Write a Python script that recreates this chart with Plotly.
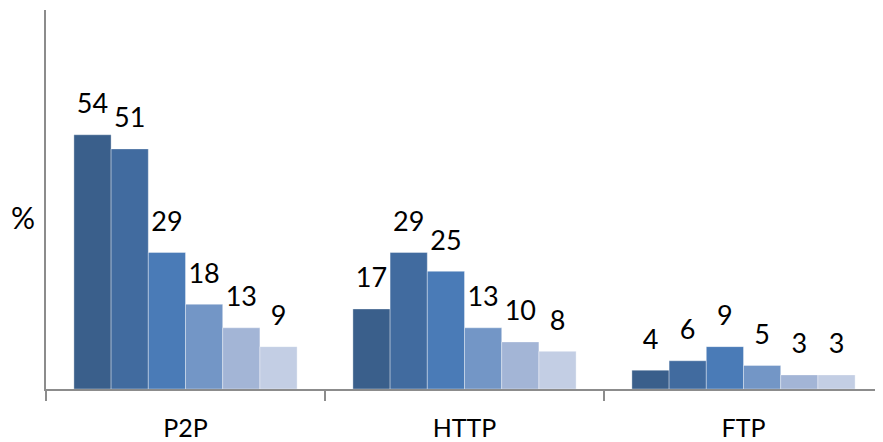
import plotly.graph_objects as go

categories = ["P2P", "HTTP", "FTP"]
series_names = ["S1", "S2", "S3", "S4", "S5", "S6"]
s1 = [54, 17, 4]
s2 = [51, 29, 6]
s3 = [29, 25, 9]
s4 = [18, 13, 5]
s5 = [13, 10, 3]
s6 = [9, 8, 3]
series_values = [s1, s2, s3, s4, s5, s6]
colors = ["#3A5F8B", "#416B9F", "#4A7BB7", "#7396C6", "#A3B5D6", "#C3CEE4"]

FONT = "Lato, 'Open Sans', sans-serif"

fig = go.Figure()
for name, vals, col in zip(series_names, series_values, colors):
    fig.add_trace(go.Bar(
        x=categories, y=vals, name=name,
        marker=dict(color=col, line=dict(color="rgba(255,255,255,0.6)", width=0.6)),
        hoverinfo="skip",
    ))
# value labels, grouped like the bars
for name, vals in zip(series_names, series_values):
    fig.add_trace(go.Scatter(
        x=categories, y=vals, name=name + " label", orientation="v",
        mode="markers+text", text=[str(v) for v in vals],
        textposition="top center",
        marker=dict(size=22, opacity=0),
        textfont=dict(family=FONT, size=27, color="#000000"),
        cliponaxis=False, hoverinfo="skip",
    ))

fig.update_layout(
    width=883, height=442,
    margin=dict(l=38, r=8, t=2, b=61),
    paper_bgcolor="white", plot_bgcolor="white",
    barmode="group", bargap=0.2, bargroupgap=0,
    scattermode="group", scattergap=0.2,
    showlegend=False,
    font=dict(family=FONT, size=26, color="#000000"),
    xaxis=dict(
        showline=True, linecolor="#8C8C8C", linewidth=1.5,
        ticks="outside", ticklen=10, tickcolor="#8C8C8C", tickwidth=1.5,
        tickson="boundaries", showgrid=False, ticklabelstandoff=16,
        tickfont=dict(family=FONT, size=25, color="#000000"),
        range=[-0.5, 2.5],
    ),
    yaxis=dict(
        range=[0, 80.5], showline=True, linecolor="#8C8C8C", linewidth=1.5,
        showticklabels=False, ticks="", showgrid=False, zeroline=False,
    ),
    annotations=[dict(
        text="%", xref="paper", yref="paper", x=-0.028, y=0.455,
        xanchor="center", yanchor="middle", showarrow=False,
        font=dict(family=FONT, size=30, color="#000000"),
    )],
)

fig.write_html("out.html")
